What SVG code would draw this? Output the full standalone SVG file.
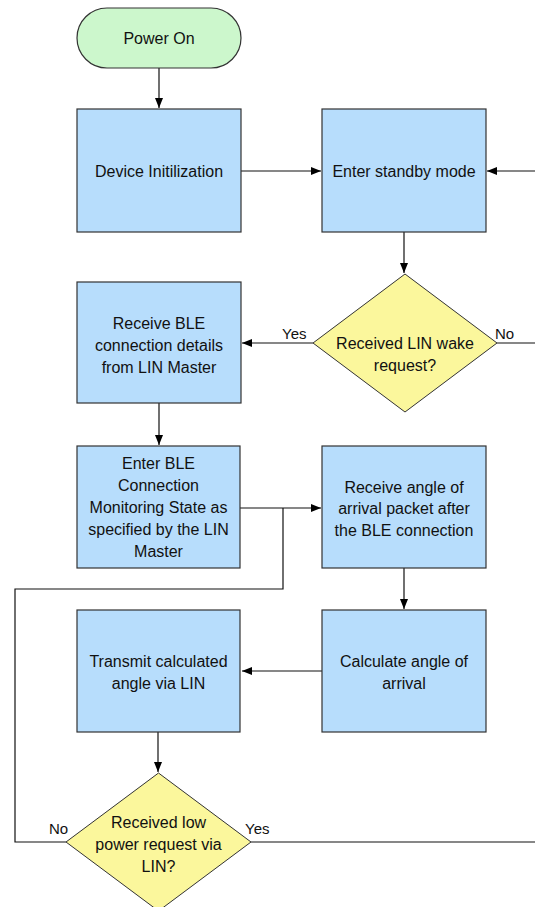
<svg xmlns="http://www.w3.org/2000/svg" width="535" height="907" viewBox="0 0 535 907">
<defs>
<style>
.box{fill:#b7ddfc;stroke:#333;stroke-width:1.2}
.term{fill:#ccf7cc;stroke:#333;stroke-width:1.2}
.dec{fill:#fbf79c;stroke:#333;stroke-width:1}
.t{font-family:"Liberation Sans",Arial,sans-serif;font-size:16px;fill:#111;text-anchor:middle}
.lbl{font-family:"Liberation Sans",Arial,sans-serif;font-size:15px;fill:#111}
.c{fill:none;stroke:#111;stroke-width:1.2}
</style>
<marker id="ah" viewBox="0 0 10 10" refX="10" refY="5" markerWidth="10" markerHeight="10" markerUnits="userSpaceOnUse" orient="auto">
<path d="M0,1 L10,5 L0,9 Z" fill="#000"/>
</marker>
</defs>
<rect width="535" height="907" fill="#fff"/>
<g id="connectors">
<path class="c" d="M159,68 V108" marker-end="url(#ah)"/>
<path class="c" d="M241,171 H321" marker-end="url(#ah)"/>
<path class="c" d="M535,171 H487" marker-end="url(#ah)"/>
<path class="c" d="M404,232 V273" marker-end="url(#ah)"/>
<path class="c" d="M313,343 H242" marker-end="url(#ah)"/>
<path class="c" d="M497,343 H535"/>
<path class="c" d="M159,403 V445" marker-end="url(#ah)"/>
<path class="c" d="M240,508 H321" marker-end="url(#ah)"/>
<path class="c" d="M66,842 H15 V589 H283 V508"/>
<path class="c" d="M404,568 V609" marker-end="url(#ah)"/>
<path class="c" d="M322,671 H242" marker-end="url(#ah)"/>
<path class="c" d="M158,732 V772" marker-end="url(#ah)"/>
<path class="c" d="M251,842 H535"/>
<text class="lbl" x="282" y="339">Yes</text>
<text class="lbl" x="495" y="339">No</text>
<text class="lbl" x="49" y="834">No</text>
<text class="lbl" x="245" y="834">Yes</text>
</g>
<g id="power-on">
<rect class="term" x="77" y="8" width="164" height="60" rx="30" ry="30"/>
<text class="t" x="159" y="44">Power On</text>
</g>
<g id="device-init">
<rect class="box" x="77" y="109" width="164" height="123"/>
<text class="t" x="159" y="177">Device Initilization</text>
</g>
<g id="standby">
<rect class="box" x="322" y="109" width="164" height="123"/>
<text class="t" x="404" y="177">Enter standby mode</text>
</g>
<g id="lin-wake">
<polygon class="dec" points="405,274 497,343 405,412 313,343"/>
<text class="t" x="405" y="349">Received LIN wake</text>
<text class="t" x="405" y="371">request?</text>
</g>
<g id="receive-ble">
<rect class="box" x="77" y="282" width="164" height="121"/>
<text class="t" x="159" y="329">Receive BLE</text>
<text class="t" x="159" y="351">connection details</text>
<text class="t" x="159" y="373">from LIN Master</text>
</g>
<g id="enter-ble">
<rect class="box" x="77" y="446" width="163" height="122"/>
<text class="t" x="158.5" y="469">Enter BLE</text>
<text class="t" x="158.5" y="491">Connection</text>
<text class="t" x="158.5" y="513">Monitoring State as</text>
<text class="t" x="158.5" y="535">specified by the LIN</text>
<text class="t" x="158.5" y="557">Master</text>
</g>
<g id="receive-angle">
<rect class="box" x="322" y="446" width="164" height="122"/>
<text class="t" x="404" y="493">Receive angle of</text>
<text class="t" x="404" y="514">arrival packet after</text>
<text class="t" x="404" y="536">the BLE connection</text>
</g>
<g id="calculate">
<rect class="box" x="322" y="610" width="164" height="122"/>
<text class="t" x="404" y="667">Calculate angle of</text>
<text class="t" x="404" y="689">arrival</text>
</g>
<g id="transmit">
<rect class="box" x="77" y="610" width="163" height="122"/>
<text class="t" x="158.5" y="667">Transmit calculated</text>
<text class="t" x="158.5" y="689">angle via LIN</text>
</g>
<g id="low-power">
<polygon class="dec" points="158.5,773 251,842 158.5,911 66,842"/>
<text class="t" x="158.5" y="828">Received low</text>
<text class="t" x="158.5" y="850">power request via</text>
<text class="t" x="158.5" y="872">LIN?</text>
</g>
</svg>
